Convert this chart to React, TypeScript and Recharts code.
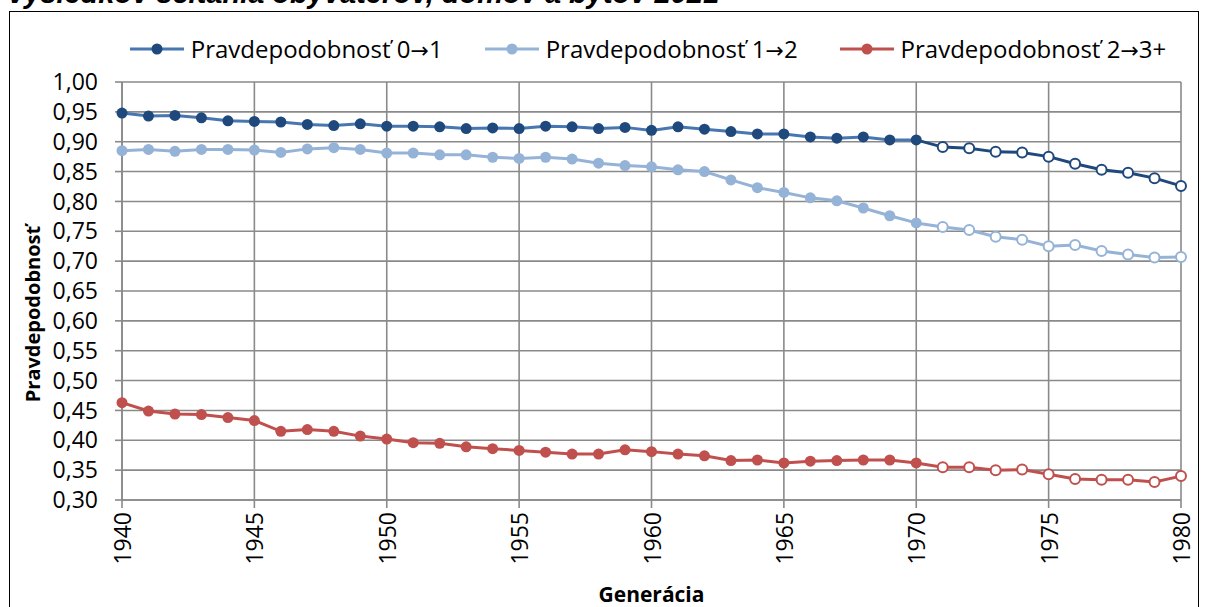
import React from 'react';
import { LineChart, Line, XAxis, YAxis, CartesianGrid, Legend } from 'recharts';

const years: number[] = [
  1940, 1941, 1942, 1943, 1944, 1945, 1946, 1947, 1948, 1949,
  1950, 1951, 1952, 1953, 1954, 1955, 1956, 1957, 1958, 1959,
  1960, 1961, 1962, 1963, 1964, 1965, 1966, 1967, 1968, 1969,
  1970, 1971, 1972, 1973, 1974, 1975, 1976, 1977, 1978, 1979, 1980,
];

const p01: number[] = [
  0.948, 0.943, 0.944, 0.940, 0.935, 0.934, 0.933, 0.929, 0.927, 0.930,
  0.926, 0.926, 0.925, 0.922, 0.923, 0.922, 0.926, 0.925, 0.922, 0.924,
  0.919, 0.925, 0.921, 0.917, 0.913, 0.913, 0.908, 0.906, 0.908, 0.903,
  0.903, 0.891, 0.889, 0.883, 0.882, 0.875, 0.863, 0.853, 0.848, 0.839, 0.826,
];

const p12: number[] = [
  0.885, 0.887, 0.884, 0.887, 0.887, 0.886, 0.882, 0.888, 0.890, 0.887,
  0.881, 0.881, 0.878, 0.878, 0.874, 0.872, 0.874, 0.871, 0.864, 0.860,
  0.858, 0.853, 0.850, 0.836, 0.823, 0.815, 0.806, 0.801, 0.789, 0.776,
  0.764, 0.757, 0.752, 0.741, 0.736, 0.725, 0.727, 0.717, 0.711, 0.706, 0.707,
];

const p23: number[] = [
  0.463, 0.449, 0.444, 0.443, 0.438, 0.433, 0.415, 0.418, 0.415, 0.407,
  0.402, 0.396, 0.395, 0.389, 0.386, 0.383, 0.380, 0.377, 0.377, 0.384,
  0.381, 0.377, 0.374, 0.366, 0.367, 0.362, 0.365, 0.366, 0.367, 0.367,
  0.362, 0.355, 0.355, 0.350, 0.351, 0.343, 0.335, 0.334, 0.334, 0.330, 0.340,
];

const lastObservedYear = 1970;

const xTicks: number[] = [1940, 1945, 1950, 1955, 1960, 1965, 1970, 1975, 1980];
const yTicks: number[] = [
  0.3, 0.35, 0.4, 0.45, 0.5, 0.55, 0.6, 0.65, 0.7, 0.75, 0.8, 0.85, 0.9, 0.95, 1.0,
];

const title = 'výsledkov sčítania obyvateľov, domov a bytov 2021';
const xTitle = 'Generácia';
const yTitle = 'Pravdepodobnosť';

const series = [
  { key: 'p01', name: 'Pravdepodobnosť 0→1', values: p01, line: '#4776B0', marker: '#1F497D', projLine: '#1F497D' },
  { key: 'p12', name: 'Pravdepodobnosť 1→2', values: p12, line: '#95B3D7', marker: '#95B3D7', projLine: '#95B3D7' },
  { key: 'p23', name: 'Pravdepodobnosť 2→3+', values: p23, line: '#C0504D', marker: '#C0504D', projLine: '#C0504D' },
];

const data = years.map((year, i) => {
  const row: Record<string, number | null> = { year };
  series.forEach((s) => {
    row[s.key] = year <= lastObservedYear ? s.values[i] : null;
    row[s.key + 'f'] = year >= lastObservedYear ? s.values[i] : null;
  });
  return row;
});

const FONT = '"Open Sans", "Noto Sans", sans-serif';
const GRID = '#8a8a8a';

const XTick = (props: any) => {
  const { x, y, payload } = props;
  return (
    <text
      x={x}
      y={y}
      transform={`rotate(-90 ${x} ${y})`}
      textAnchor="end"
      dominantBaseline="central"
      fontFamily={FONT}
      fontSize={23}
      fill="#000"
    >
      {payload.value}
    </text>
  );
};

const renderName = (name: string) => {
  const parts = name.split('→');
  return (
    <span style={{ whiteSpace: 'nowrap' }}>
      {parts[0]}
      <span style={{ fontFamily: '"DejaVu Sans", sans-serif', fontSize: 22 }}>→</span>
      {parts[1]}
    </span>
  );
};

const LegendContent = () => (
  <div
    style={{
      display: 'flex',
      justifyContent: 'center',
      alignItems: 'center',
      fontFamily: FONT,
      fontSize: 24,
      color: '#000',
      paddingLeft: 90,
    }}
  >
    {series.map((s, i) => (
      <div
        key={s.key}
        style={{ display: 'flex', alignItems: 'center', marginLeft: i === 0 ? 0 : 42 }}
      >
        <svg width={54} height={16} style={{ marginRight: 7 }}>
          <line x1={0} y1={8} x2={54} y2={8} stroke={s.line} strokeWidth={3} />
          <circle cx={27} cy={8} r={5.5} fill={s.marker} />
        </svg>
        {renderName(s.name)}
      </div>
    ))}
  </div>
);

export default function App() {
  return (
    <div style={{ position: 'absolute', left: 0, top: 0, width: 1206, height: 607, background: '#fff', overflow: 'hidden' }}>
      <div
        style={{
          position: 'absolute',
          left: 8,
          top: -24,
          fontFamily: '"Liberation Sans", Arial, sans-serif',
          fontWeight: 'bold',
          fontStyle: 'italic',
          fontSize: 29,
          lineHeight: '34px',
          whiteSpace: 'nowrap',
          color: '#000',
        }}
      >
        {title}
      </div>
      <div
        style={{
          position: 'absolute',
          left: 9,
          top: 11,
          width: 1190,
          height: 620,
          border: '1.5px solid #000',
          boxSizing: 'border-box',
        }}
      />
      <div style={{ position: 'absolute', left: 0, top: 0 }}>
        <LineChart
          width={1206}
          height={607}
          data={data}
          margin={{ top: 82, right: 25, bottom: 0, left: 0 }}
        >
          <CartesianGrid stroke={GRID} strokeWidth={1.6} />
          <XAxis
            dataKey="year"
            type="number"
            domain={[1940, 1980]}
            ticks={xTicks}
            interval={0}
            height={107}
            tick={<XTick />}
            tickSize={8}
            tickMargin={4}
            axisLine={{ stroke: GRID, strokeWidth: 1.6 }}
            tickLine={{ stroke: GRID, strokeWidth: 1.6 }}
            label={{
              value: xTitle,
              position: 'center',
              dy: 41,
              style: { fontFamily: FONT, fontWeight: 'bold', fontSize: 21, fill: '#000' },
            }}
          />
          <YAxis
            type="number"
            domain={[0.3, 1.0]}
            ticks={yTicks}
            interval={0}
            width={122}
            tickSize={7}
            tickMargin={17}
            tickFormatter={(v: number) => v.toFixed(2).replace('.', ',')}
            tick={{ fontFamily: FONT, fontSize: 23, fill: '#000' }}
            axisLine={{ stroke: GRID, strokeWidth: 1.6 }}
            tickLine={{ stroke: GRID, strokeWidth: 1.6 }}
            label={{
              value: yTitle,
              angle: -90,
              position: 'center',
              dx: -28,
              dy: 23,
              style: { fontFamily: FONT, fontWeight: 'bold', fontSize: 20, fill: '#000', textAnchor: 'middle' },
            }}
          />
          <Legend
            layout="horizontal"
            verticalAlign="middle"
            align="center"
            wrapperStyle={{ top: 32, left: 0, width: 1206, height: 30 }}
            content={<LegendContent />}
          />
          {series.map((s) => (
            <Line
              key={s.key + 'f'}
              dataKey={s.key + 'f'}
              name={s.name + ' (f)'}
              legendType="none"
              stroke={s.projLine}
              strokeWidth={3}
              isAnimationActive={false}
              connectNulls={false}
              activeDot={false}
              dot={(p: any) =>
                p.payload && p.payload.year > lastObservedYear && p.cx != null ? (
                  <circle key={`d${s.key}${p.index}`} cx={p.cx} cy={p.cy} r={5} fill="#fff" stroke={s.marker} strokeWidth={2} />
                ) : (
                  <g key={`d${s.key}${p.index}`} />
                )
              }
            />
          ))}
          {series.map((s) => (
            <Line
              key={s.key}
              dataKey={s.key}
              name={s.name}
              stroke={s.line}
              strokeWidth={3}
              isAnimationActive={false}
              connectNulls={false}
              activeDot={false}
              dot={(p: any) =>
                p.cx != null && p.value != null ? (
                  <circle key={`o${s.key}${p.index}`} cx={p.cx} cy={p.cy} r={5.5} fill={s.marker} stroke="none" />
                ) : (
                  <g key={`o${s.key}${p.index}`} />
                )
              }
            />
          ))}
        </LineChart>
      </div>
    </div>
  );
}
